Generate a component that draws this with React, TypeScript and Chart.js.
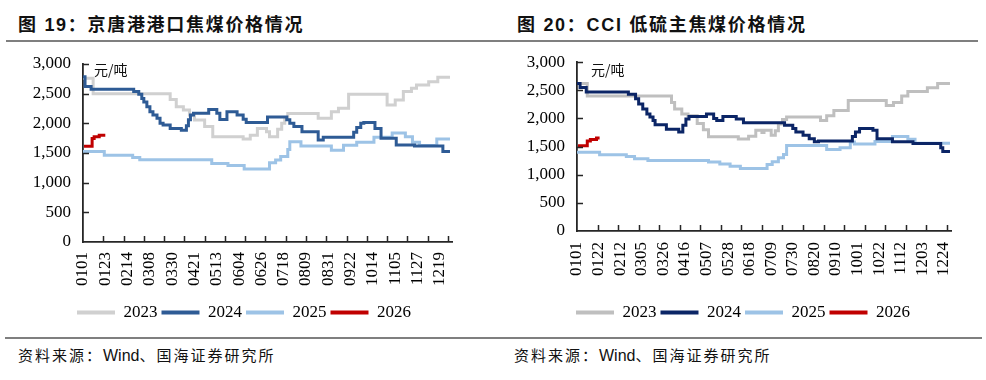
import React, { useEffect, useRef } from 'react';
import { Chart, registerables } from 'chart.js';

Chart.register(...registerables);

const SERIF = '"Times New Roman", "Liberation Serif", serif';
const MONTH_DAYS = [31, 28, 31, 30, 31, 30, 31, 31, 30, 31, 30, 31];
const doy = (mmdd: string) => {
  const m = +mmdd.slice(0, 2);
  const d = +mmdd.slice(2);
  let s = 0;
  for (let i = 0; i < m - 1; i++) s += MONTH_DAYS[i];
  return s + d - 1;
};

const seriesNames = ['2023', '2024', '2025', '2026'];

// x tick labels (MMDD)
const leftTickLabels = ['0101', '0123', '0214', '0308', '0330', '0421', '0513', '0604', '0626', '0718', '0809', '0831', '0922', '1014', '1105', '1127', '1219'];
const rightTickLabels = ['0101', '0122', '0212', '0305', '0326', '0416', '0507', '0528', '0618', '0709', '0730', '0820', '0910', '1001', '1022', '1112', '1203', '1224'];
const yTicks = [0, 500, 1000, 1500, 2000, 2500, 3000];

type Pt = [number, number]; // [day of year (0 = 0101), 元/吨]

// 图19 京唐港港口焦煤价格
const jt2023: Pt[] = [[0, 2760], [10, 2500], [86, 2400], [92, 2280], [99, 2225], [105, 2140], [110, 2055], [120, 1945], [128, 1775], [158, 1735], [165, 1800], [172, 1915], [181, 1860], [184, 1775], [192, 1900], [196, 2000], [199, 2100], [202, 2165], [232, 2085], [245, 2195], [252, 2255], [262, 2490], [300, 2310], [308, 2395], [316, 2535], [324, 2590], [329, 2645], [341, 2700], [350, 2775], [362, 2775]];
const jt2024: Pt[] = [[0, 2785], [2, 2620], [8, 2575], [50, 2535], [55, 2490], [58, 2420], [60, 2360], [63, 2280], [66, 2195], [69, 2140], [73, 2085], [76, 2000], [79, 1970], [86, 1915], [97, 1885], [102, 1960], [104, 2060], [106, 2140], [109, 2170], [124, 2235], [132, 2170], [135, 2065], [142, 2195], [152, 2140], [158, 2070], [161, 2015], [182, 2105], [201, 2060], [204, 2000], [208, 1945], [216, 1860], [232, 1720], [237, 1765], [265, 1765], [267, 1850], [270, 1930], [274, 2000], [277, 2015], [288, 1915], [294, 1750], [309, 1635], [327, 1620], [355, 1525], [362, 1525]];
const jt2025: Pt[] = [[0, 1525], [21, 1460], [49, 1425], [56, 1385], [127, 1325], [143, 1290], [159, 1230], [184, 1335], [190, 1380], [195, 1440], [202, 1560], [204, 1690], [215, 1620], [245, 1545], [257, 1630], [270, 1680], [287, 1765], [305, 1835], [318, 1775], [325, 1680], [332, 1625], [349, 1735], [362, 1735]];
const jt2026: Pt[] = [[1, 1615], [9, 1745], [11, 1775], [16, 1800], [22, 1800]];

// 图20 CCI 低硫主焦煤价格
const cci2023: Pt[] = [[0, 2620], [10, 2400], [92, 2285], [95, 2170], [102, 2080], [108, 2050], [117, 1910], [123, 1800], [128, 1675], [157, 1635], [167, 1685], [174, 1790], [180, 1750], [182, 1790], [189, 1700], [193, 1780], [196, 1900], [200, 1980], [204, 2025], [237, 1965], [243, 2050], [250, 2140], [264, 2320], [301, 2230], [308, 2285], [316, 2400], [322, 2480], [341, 2545], [351, 2620], [363, 2620]];
const cci2024: Pt[] = [[0, 2620], [3, 2550], [9, 2470], [50, 2430], [57, 2350], [60, 2255], [64, 2170], [68, 2080], [71, 2025], [74, 1965], [76, 1890], [87, 1810], [99, 1760], [103, 1880], [106, 1990], [109, 2035], [126, 2080], [133, 2000], [136, 1965], [142, 2035], [155, 1990], [162, 1925], [202, 1880], [210, 1820], [213, 1760], [220, 1700], [226, 1640], [231, 1585], [235, 1600], [266, 1600], [268, 1680], [271, 1760], [275, 1820], [288, 1790], [292, 1640], [307, 1585], [327, 1555], [354, 1480], [356, 1415], [363, 1415]];
const cci2025: Pt[] = [[0, 1400], [22, 1355], [48, 1325], [56, 1285], [69, 1255], [128, 1225], [139, 1190], [149, 1150], [159, 1110], [185, 1180], [190, 1230], [196, 1300], [201, 1360], [204, 1520], [243, 1450], [256, 1480], [266, 1580], [270, 1545], [290, 1590], [307, 1680], [322, 1630], [329, 1560], [363, 1560]];
const cci2026: Pt[] = [[1, 1515], [10, 1600], [13, 1625], [19, 1655], [22, 1655]];

const tickMarks = {
  id: 'tickMarks',
  afterDraw(chart: any) {
    const { ctx, chartArea, scales } = chart;
    ctx.save();
    ctx.strokeStyle = '#262626';
    ctx.lineWidth = 1.5;
    ctx.beginPath();
    for (let d = 20; d <= 364; d += 20) {
      const x = Math.round(scales.x.getPixelForValue(d)) + 0.5;
      ctx.moveTo(x, chartArea.bottom);
      ctx.lineTo(x, chartArea.bottom - 6);
    }
    for (const v of yTicks) {
      if (v === 0) continue;
      const y = Math.round(scales.y.getPixelForValue(v)) + 0.5;
      ctx.moveTo(chartArea.left, y);
      ctx.lineTo(chartArea.left + 6, y);
    }
    ctx.stroke();
    ctx.restore();
  },
};

interface PanelProps {
  series: Pt[][];
  colors: string[];
  tickLabels: string[];
  width: number;
  height: number;
  yWidth: number;
  rightWidth: number;
  topPad: number;
  xHeight: number;
  labelPad: number;
}

function Panel(p: PanelProps) {
  const ref = useRef<HTMLCanvasElement>(null);
  useEffect(() => {
    if (!ref.current) return;
    const tickDays = p.tickLabels.map(doy);
    const chart = new Chart(ref.current, {
      type: 'line',
      data: {
        datasets: p.series.map((s, i) => ({
          label: seriesNames[i],
          data: s.map(([x, y]) => ({ x, y })),
          borderColor: p.colors[i],
          backgroundColor: p.colors[i],
          borderWidth: 3,
          pointRadius: 0,
          stepped: 'before' as const,
          fill: false,
          order: [3, 0, 2, 1][i],
        })),
      },
      options: {
        responsive: false,
        animation: false,
        events: [],
        layout: { padding: { top: p.topPad, left: 0, right: 0, bottom: 0 } },
        scales: {
          x: {
            type: 'linear',
            min: 0,
            max: 364,
            grid: { display: false, drawTicks: false },
            border: { display: true, color: '#262626', width: 1.8 },
            afterBuildTicks: (scale: any) => {
              scale.ticks = tickDays.map((value) => ({ value }));
            },
            afterFit: (scale: any) => {
              scale.height = p.xHeight;
            },
            ticks: {
              autoSkip: false,
              minRotation: 90,
              maxRotation: 90,
              padding: p.labelPad,
              color: '#000',
              font: { family: SERIF, size: 17 },
              callback: (value: any) => {
                const idx = tickDays.indexOf(value);
                return idx >= 0 ? p.tickLabels[idx] : '';
              },
            },
          },
          y: {
            type: 'linear',
            position: 'left',
            min: 0,
            max: 3000,
            grid: { display: false, drawTicks: false },
            border: { display: true, color: '#262626', width: 1.8 },
            afterBuildTicks: (scale: any) => {
              scale.ticks = yTicks.map((value) => ({ value }));
            },
            afterFit: (scale: any) => {
              scale.width = p.yWidth;
            },
            ticks: {
              padding: 12,
              color: '#000',
              font: { family: SERIF, size: 17 },
              callback: (value: any) => Number(value).toLocaleString('en-US'),
            },
          },
          yr: {
            type: 'linear',
            position: 'right',
            display: true,
            grid: { display: false, drawTicks: false },
            border: { display: false },
            ticks: { display: false },
            afterFit: (scale: any) => {
              scale.width = p.rightWidth;
            },
          },
        },
        plugins: {
          tooltip: { enabled: false },
          title: { display: false },
          legend: {
            display: true,
            position: 'bottom',
            labels: {
              boxWidth: 38,
              boxHeight: 4,
              padding: 4,
              color: '#000',
              font: { family: SERIF, size: 17 },
              generateLabels: (chart: any) =>
                chart.data.datasets.map((ds: any, i: number) => ({
                  text: ds.label,
                  fillStyle: ds.borderColor,
                  strokeStyle: ds.borderColor,
                  lineWidth: 0,
                  hidden: false,
                  datasetIndex: i,
                  fontColor: '#000',
                })),
            },
          },
        },
      } as any,
      plugins: [tickMarks],
    });
    return () => chart.destroy();
  }, []);
  return <canvas ref={ref} width={p.width} height={p.height} style={{ display: 'block', width: p.width, height: p.height }} />;
}

const titleStyle: React.CSSProperties = {
  position: 'absolute',
  top: 15,
  fontFamily: '"Liberation Sans", Arial, "Noto Sans CJK SC", sans-serif',
  fontWeight: 700,
  fontSize: 18,
  lineHeight: '20px',
  letterSpacing: '1.7px',
  color: '#111',
  whiteSpace: 'nowrap',
};
const unitStyle: React.CSSProperties = {
  position: 'absolute',
  top: 60,
  fontFamily: '"Noto Sans CJK SC", sans-serif',
  fontSize: 14,
  lineHeight: '18px',
  color: '#111',
  whiteSpace: 'nowrap',
};
const sourceStyle: React.CSSProperties = {
  position: 'absolute',
  top: 346,
  fontFamily: '"Liberation Sans", Arial, "Noto Sans CJK SC", sans-serif',
  fontSize: 15,
  lineHeight: '20px',
  letterSpacing: '2px',
  color: '#111',
  whiteSpace: 'nowrap',
};

function Source({ left }: { left: number }) {
  return (
    <div style={{ ...sourceStyle, left }}>
      资料来源：<span style={{ letterSpacing: '0px', fontSize: 16 }}>Wind</span>、国海证券研究所
    </div>
  );
}

export default function App() {
  return (
    <div style={{ position: 'absolute', left: 0, top: 0, width: 986, height: 380, background: '#fff', overflow: 'hidden' }}>
      <div style={{ ...titleStyle, left: 18 }}>图 19：京唐港港口焦煤价格情况</div>
      <div style={{ ...titleStyle, left: 517 }}>图 20：CCI 低硫主焦煤价格情况</div>
      <div style={{ position: 'absolute', left: 6, top: 40, width: 972, height: 2, background: '#7f7f7f' }} />
      <div style={{ position: 'absolute', left: 0, top: 40 }}>
        <Panel
          series={[jt2023, jt2024, jt2025, jt2026]}
          colors={['#d0d0d0', '#2e5b95', '#9dc3e6', '#c00000']}
          tickLabels={leftTickLabels}
          width={488}
          height={291}
          yWidth={83}
          rightWidth={36}
          topPad={24}
          xHeight={58}
          labelPad={10}
        />
      </div>
      <div style={{ position: 'absolute', left: 500, top: 40 }}>
        <Panel
          series={[cci2023, cci2024, cci2025, cci2026]}
          colors={['#bfbfbf', '#0b2566', '#9dc3e6', '#c00000']}
          tickLabels={rightTickLabels}
          width={486}
          height={291}
          yWidth={77}
          rightWidth={35}
          topPad={19}
          xHeight={69}
          labelPad={11}
        />
      </div>
      <div style={{ ...unitStyle, left: 94 }}>元/吨</div>
      <div style={{ ...unitStyle, left: 591 }}>元/吨</div>
      <div style={{ position: 'absolute', left: 5, top: 337, width: 977, height: 2, background: '#7f7f7f' }} />
      <Source left={18} />
      <Source left={514} />
    </div>
  );
}
